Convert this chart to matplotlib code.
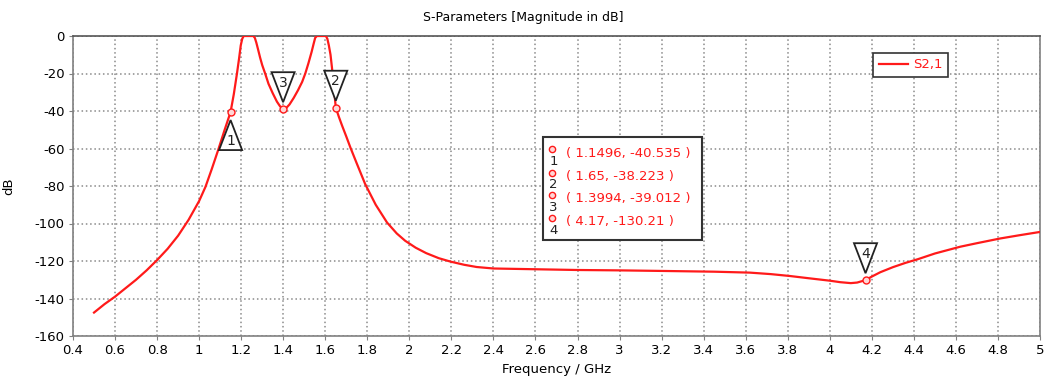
import matplotlib
matplotlib.use("Agg")
import matplotlib.pyplot as plt
from matplotlib.patches import Polygon, Rectangle
from matplotlib.transforms import Affine2D, ScaledTranslation

plt.rcParams["axes.unicode_minus"] = False

# S2,1 magnitude trace
freq_ghz = [0.5, 0.55, 0.6, 0.65, 0.7, 0.75, 0.8, 0.85, 0.9, 0.95, 1.0, 1.03, 1.06,
            1.09, 1.12, 1.1496, 1.165, 1.18, 1.19, 1.198, 1.205, 1.212, 1.258, 1.265,
            1.272, 1.28, 1.29, 1.30, 1.314, 1.33, 1.35, 1.37, 1.385, 1.3994, 1.415,
            1.43, 1.45, 1.47, 1.49, 1.505, 1.52, 1.535, 1.545, 1.552, 1.56, 1.603,
            1.61, 1.617, 1.625, 1.632, 1.64, 1.65, 1.665, 1.68, 1.7, 1.72, 1.75, 1.79,
            1.84, 1.894, 1.94, 1.98, 2.03, 2.08, 2.14, 2.195, 2.26, 2.32, 2.4, 2.5,
            2.6, 2.8, 3.0, 3.2, 3.45, 3.62, 3.72, 3.81, 3.9, 4.0, 4.05, 4.1, 4.13,
            4.17, 4.2, 4.24, 4.3, 4.36, 4.42, 4.5, 4.62, 4.7, 4.81, 4.9, 5.0]
s21_db = [-147.5, -143, -139, -134.5, -130, -125, -119.5, -113.5, -106.5, -98, -88,
          -80.5, -71, -61, -50.5, -40.535, -31, -20, -12, -5, -1.5, 0, 0, -1,
          -3.5, -7, -11.5, -15.5, -20, -25.5, -30.5, -35, -37.5, -39.012, -38.3,
          -36.5, -33, -29, -24.5, -20, -14.5, -8.5, -4, -1, 0, 0,
          -1.5, -5, -10, -17, -26, -38.223, -43.2, -47.8, -53.6, -59.6, -68, -79,
          -90, -99.5, -105.3, -109.2, -112.9, -115.8, -118.5, -120.3, -122, -123.2, -124, -124.2,
          -124.4, -124.8, -125, -125.3, -125.7, -126.2, -127, -128, -129.2, -130.5, -131.3, -131.8, -131.5,
          -130.21, -128.3, -126, -123.3, -121, -119, -116, -112.4, -110.5, -108, -106.3, -104.5]

# marker readouts
marker_ids = ["1", "2", "3", "4"]
marker_freq = [1.1496, 1.65, 1.3994, 4.17]
marker_db = [-40.535, -38.223, -39.012, -130.21]
marker_up = [True, False, False, False]

x_ticks = [round(0.4 + 0.2 * i, 1) for i in range(24)]
y_ticks = list(range(-160, 1, 20))

RED = "#ff1a1a"
GRAY = "#808080"

fig = plt.figure(figsize=(10.47, 3.89), dpi=100)
ax = fig.add_axes([73 / 1047, 53 / 389, 967 / 1047, 300 / 389])

ax.plot(freq_ghz, s21_db, color=RED, lw=1.6, zorder=3, clip_on=True,
        solid_joinstyle="round")

ax.set_xlim(0.4, 5.0)
ax.set_ylim(-160, 0)
ax.set_xticks(x_ticks)
ax.set_xticklabels([f"{t:g}" for t in x_ticks])
ax.set_yticks(y_ticks)
ax.grid(True, color="#8a8a8a", linestyle=(0, (1, 1.8)), linewidth=1.1)
for s in ax.spines.values():
    s.set_color(GRAY)
    s.set_linewidth(1.2)
ax.spines["top"].set_color("#555555")
ax.tick_params(direction="out", length=3, color=GRAY, labelsize=9.5, pad=3)

fig.text(0.5, 1 - 17 / 389, "S-Parameters [Magnitude in dB]", fontsize=9,
         ha="center", va="center")
ax.set_xlabel("Frequency / GHz", fontsize=9.5, labelpad=4)
ax.set_ylabel("dB", fontsize=9.5, labelpad=14)

# marker flags: triangles with numbers, offsets given in points
pt = fig.dpi / 72.0
tri_down = [(-8.3, 26.6), (8.3, 26.6), (0, 5.0)]
tri_up = [(0, -5.8), (-8.3, -27.4), (8.3, -27.4)]
for mid, fx, fy, up in zip(marker_ids, marker_freq, marker_db, marker_up):
    verts = tri_up if up else tri_down
    tr = Affine2D().scale(pt) + ScaledTranslation(fx, fy, ax.transData)
    ax.add_patch(Polygon(verts, closed=True, facecolor="white", edgecolor="#222222",
                         lw=1.3, transform=tr, zorder=5, clip_on=False))
    ax.annotate(mid, (fx, fy), xytext=(0, -21 if up else 19), textcoords="offset points",
                ha="center", va="center", fontsize=10, color="#222222", zorder=6)
ax.plot(marker_freq, marker_db, "o", ms=5, mfc="#ffd6d6", mec=RED, mew=1.0, zorder=7)

# legend
leg = ax.legend(["S2,1"], loc="upper left", bbox_to_anchor=(0.827, 0.945),
                borderaxespad=0, fancybox=False, framealpha=1, edgecolor="#333333",
                handlelength=2.2, handletextpad=0.4, borderpad=0.45, fontsize=9.5,
                labelcolor=RED)
leg.get_frame().set_linewidth(1.2)

# marker readout box
ax.add_patch(Rectangle((0.486, 0.32), 0.164, 0.343, transform=ax.transAxes,
                       facecolor="white", edgecolor="#333333", lw=1.5, zorder=8))
row_y = [0.61, 0.533, 0.457, 0.38]
for ry, mid, fx, fy in zip(row_y, marker_ids, marker_freq, marker_db):
    ax.plot([0.4953], [ry + 0.012], "o", ms=4.5, mfc="#ffd6d6", mec=RED, mew=1.0,
            transform=ax.transAxes, zorder=9, clip_on=False)
    ax.text(0.4968, ry - 0.028, mid, transform=ax.transAxes, ha="center", va="center",
            fontsize=9.5, color="#222222", zorder=9)
    ax.text(0.510, ry, f"( {fx:g}, {fy:g} )", transform=ax.transAxes, ha="left",
            va="center", fontsize=9.5, color=RED, zorder=9)

fig.savefig("out.png", dpi=100)
